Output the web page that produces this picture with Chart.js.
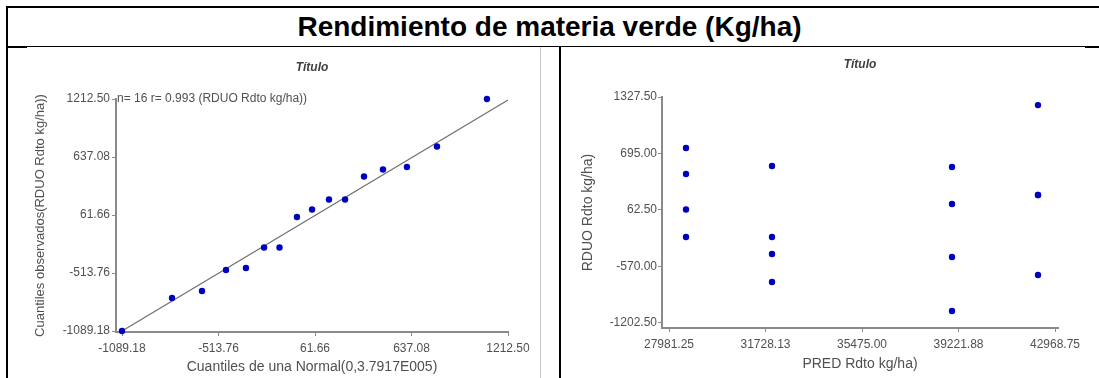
<!DOCTYPE html>
<html><head><meta charset="utf-8">
<script src="https://cdn.jsdelivr.net/npm/chart.js@4.4.1/dist/chart.umd.min.js"></script>
<style>
html,body{margin:0;padding:0;background:#fff;}
body{width:1099px;height:378px;position:relative;overflow:hidden;font-family:"Liberation Sans",Arial,sans-serif;}
.ln{position:absolute;background:#000;}
#title{position:absolute;left:0;top:8px;width:1099px;height:38px;line-height:38px;text-align:center;font-weight:bold;font-size:28px;color:#000;white-space:nowrap;}
canvas{position:absolute;}
</style></head><body>
<div id="title">Rendimiento de materia verde (Kg/ha)</div>
<div class="ln" style="left:6px;top:6px;width:1093px;height:2px"></div>
<div class="ln" style="left:6px;top:6px;width:2px;height:372px"></div>
<div class="ln" style="left:8px;top:46px;width:1091px;height:1px"></div>
<div class="ln" style="left:8px;top:46px;width:19px;height:2px"></div>
<div class="ln" style="left:1085px;top:46px;width:14px;height:2px"></div>
<div class="ln" style="left:540px;top:47px;width:1px;height:331px;background:#c8c8c8"></div>
<div class="ln" style="left:559px;top:47px;width:2px;height:331px"></div>
<canvas id="qq" width="532" height="330" style="left:8px;top:48px"></canvas>
<canvas id="res" width="537" height="330" style="left:562px;top:48px"></canvas>
<script>
// Q-Q plot: theoretical normal quantiles vs observed residual quantiles
const qqTheoretical = [-1089.18, -791, -612, -469, -350, -242, -150, -46, 44, 145, 241, 354, 467, 610, 789, 1087];
const qqObserved    = [-1089.18, -762, -692, -484, -464, -261, -261, 42, 116, 215, 215, 444, 513, 538, 741, 1212.5];
const qqLineX = [-1089.18, 1212.5];
const qqLineY = [-1089.18, 1202];
const qqTicks = [-1089.18, -513.76, 61.66, 637.08, 1212.5];
const qqNote = 'n= 16 r= 0.993 (RDUO Rdto kg/ha))';

// Residuals vs predicted values
const predValues = [28641, 28641, 28641, 28641, 31980, 31980, 31980, 31980, 38969, 38969, 38969, 38969, 42308, 42308, 42308, 42308];
const resValues  = [756, 465, 68, -240, 555, -240, -430, -743, 544, 130, -463, -1068, 1237, 230, 230, -665];
const resXTicks = [27981.25, 31728.13, 35475.00, 39221.88, 42968.75];
const resYTicks = [-1202.5, -570.00, 62.5, 695.00, 1327.5];

Chart.defaults.font.family = '"Liberation Sans", Arial, sans-serif';
Chart.defaults.color = '#505050';

const AXIS = '#8a8a8a';
const DOT = '#0000c0';

function pts(xs, ys) { return xs.map((x, i) => ({x: x, y: ys[i]})); }

function axis(opts) {
  return {
    type: 'linear',
    min: opts.min, max: opts.max,
    afterBuildTicks: s => { s.ticks = opts.ticks.map(v => ({value: v})); },
    afterFit: opts.fit,
    grid: {drawOnChartArea: false, drawTicks: true, tickLength: 4, color: AXIS, lineWidth: 1},
    border: {display: true, color: AXIS, width: 2},
    ticks: {autoSkip: false, maxRotation: 0, padding: opts.tickPad, font: {size: 12}, color: '#505050',
            callback: v => Number(v).toFixed(2)},
    title: {display: true, text: opts.title, color: '#505050', font: {size: opts.titleSize},
            padding: opts.titlePad}
  };
}

const noteText = {
  id: 'noteText',
  afterDraw(chart) {
    if (chart.canvas.id !== 'qq') return;
    const {ctx, chartArea, scales} = chart;
    ctx.save();
    ctx.font = '12px "Liberation Sans", Arial, sans-serif';
    ctx.fillStyle = '#505050';
    ctx.textBaseline = 'middle';
    ctx.fillText(qqNote, chartArea.left + 1, scales.y.getPixelForValue(qqTicks[4]));
    ctx.restore();
  }
};

new Chart(document.getElementById('qq'), {
  type: 'scatter',
  data: {
    datasets: [
      {type: 'line', data: pts(qqLineX, qqLineY), borderColor: '#6e6e6e', borderWidth: 1.2,
       pointRadius: 0, clip: false, order: 2},
      {data: pts(qqTheoretical, qqObserved), backgroundColor: DOT, borderColor: DOT,
       pointRadius: 3.2, borderWidth: 0, clip: false, order: 1}
    ]
  },
  options: {
    responsive: false, animation: false,
    layout: {padding: {left: 0, right: 32, top: 0, bottom: 0}},
    plugins: {
      legend: {display: false}, tooltip: {enabled: false},
      title: {display: true, text: 'Título', fullSize: false, color: '#404040',
              font: {size: 12, weight: 'bold', style: 'italic'}, padding: {top: 12.8, bottom: 23.8}}
    },
    scales: {
      x: axis({min: -1124.96, max: 1212.5, ticks: qqTicks, tickPad: 5.5,
               fit: s => { s.height = 46; },
               title: 'Cuantiles de una Normal(0,3.7917E005)', titleSize: 14,
               titlePad: {top: 0, bottom: 2}}),
      y: axis({min: -1099.1, max: 1212.5, ticks: qqTicks, tickPad: 2,
               fit: s => { s.width = 108; },
               title: 'Cuantiles observados(RDUO Rdto kg/ha))', titleSize: 13,
               titlePad: {top: 24.2, bottom: 0}})
    }
  },
  plugins: [noteText]
});

new Chart(document.getElementById('res'), {
  type: 'scatter',
  data: {
    datasets: [
      {data: pts(predValues, resValues), backgroundColor: DOT, borderColor: DOT,
       pointRadius: 3.2, borderWidth: 0, clip: false}
    ]
  },
  options: {
    responsive: false, animation: false,
    layout: {padding: {left: 0, right: 41, top: 0, bottom: 0}},
    plugins: {
      legend: {display: false}, tooltip: {enabled: false},
      title: {display: true, text: 'Título', fullSize: false, color: '#404040',
              font: {size: 12, weight: 'bold', style: 'italic'}, padding: {top: 9.8, bottom: 24.8}}
    },
    scales: {
      x: axis({min: 27709.4, max: 43085, ticks: resXTicks, tickPad: 5,
               fit: s => { s.height = 50; },
               title: 'PRED Rdto kg/ha)', titleSize: 14,
               titlePad: {top: 0, bottom: 5.6}}),
      y: axis({min: -1258.5, max: 1327.5, ticks: resYTicks, tickPad: 1,
               fit: s => { s.width = 100; },
               title: 'RDUO Rdto kg/ha)', titleSize: 14,
               titlePad: {top: 17.6, bottom: 0}})
    }
  }
});
</script>
</body></html>
